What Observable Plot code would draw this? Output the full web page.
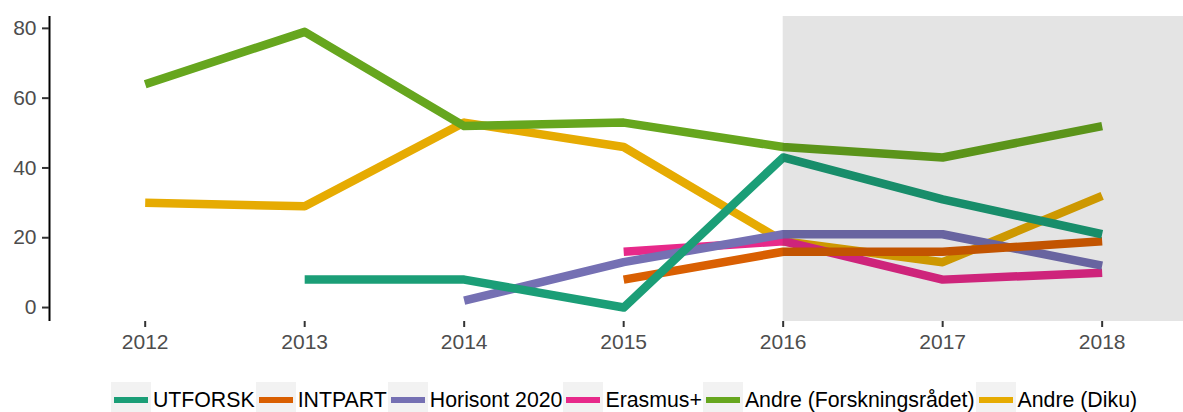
<!DOCTYPE html>
<html>
<head>
<meta charset="utf-8">
<script src="https://cdn.jsdelivr.net/npm/d3@7"></script>
<script src="https://cdn.jsdelivr.net/npm/@observablehq/plot@0.6"></script>
<style>
  html, body { margin: 0; padding: 0; background: #fff; overflow: hidden; }
  body { width: 1183px; height: 412px; font-family: "Liberation Sans", Arial, sans-serif; }
  #legend { display: flex; justify-content: center; align-items: center; padding-left: 66px; margin-top: 12px; width: 1117px; }
  .item { display: flex; align-items: center; flex: 0 0 auto; }
  .key { width: 40px; min-width: 40px; height: 36px; background: #f2f2f2; display: flex; align-items: center; justify-content: center; flex: 0 0 40px; }
  .key span { display: block; width: 34px; height: 6px; flex: 0 0 34px; }
  .lab { font-size: 21.3px; color: #000; margin-left: 2px; margin-right: 1px; white-space: nowrap; flex: 0 0 auto; }
</style>
</head>
<body>
<div id="chart"></div>
<div id="legend"></div>
<script>
const years = [2012, 2013, 2014, 2015, 2016, 2017, 2018];
const seriesNames = ["UTFORSK", "INTPART", "Horisont 2020", "Erasmus+", "Andre (Forskningsrådet)", "Andre (Diku)"];
const colors = ["#1b9e77", "#d95f02", "#7570b3", "#e7298a", "#66a61e", "#e6ab02"];
const utforsk  = [null, 8, 8, 0, 43, 31, 21];
const intpart  = [null, null, null, 8, 16, 16, 19];
const horisont = [null, null, 2, 13, 21, 21, 12];
const erasmus  = [null, null, null, 16, 19, 8, 10];
const andreForsk = [64, 79, 52, 53, 46, 43, 52];
const andreDiku  = [30, 29, 53, 46, 19, 13, 32];
const yTicks = [0, 20, 40, 60, 80];
const highlightStart = 2016;

const seriesValues = [utforsk, intpart, horisont, erasmus, andreForsk, andreDiku];
// build rows, reversed so first series is drawn on top
const rows = [];
for (let s = seriesNames.length - 1; s >= 0; s--) {
  years.forEach((yr, i) => {
    const v = seriesValues[s][i];
    if (v != null) rows.push({series: seriesNames[s], year: yr, value: v});
  });
}

const xDomain = [2011.4, 2018.51];
const yDomain = [-4.0, 83.4];

const chart = Plot.plot({
  width: 1183,
  height: 370,
  marginLeft: 49,
  marginRight: 0,
  marginTop: 16,
  marginBottom: 49,
  style: {fontFamily: '"Liberation Sans", Arial, sans-serif', fontSize: "21px", background: "#fff"},
  x: {domain: xDomain},
  y: {domain: yDomain},
  color: {domain: seriesNames, range: colors},
  marks: [
    Plot.line(rows, {x: "year", y: "value", z: "series", stroke: "series", strokeWidth: 8.5, strokeLinecap: "butt", strokeLinejoin: "round"}),
    Plot.rect([{x1: highlightStart, x2: xDomain[1], y1: yDomain[0], y2: yDomain[1]}], {x1: "x1", x2: "x2", y1: "y1", y2: "y2", fill: "#000", fillOpacity: 0.106}),
    Plot.ruleX([xDomain[0]], {y1: yDomain[0], y2: yDomain[1], stroke: "#000", strokeWidth: 2}),
    Plot.axisX({ticks: years, tickFormat: d => String(d), tickSize: 6, tickPadding: 7, stroke: "#333", strokeWidth: 2, fill: "#4d4d4d", fontSize: 21, label: null}),
    Plot.axisY({ticks: yTicks, tickSize: 7, tickPadding: 6, stroke: "#333", strokeWidth: 2, fill: "#4d4d4d", fontSize: 21, label: null})
  ]
});
document.getElementById("chart").appendChild(chart);

const legend = document.getElementById("legend");
seriesNames.forEach((name, i) => {
  const item = document.createElement("div");
  item.className = "item";
  const key = document.createElement("div");
  key.className = "key";
  const sw = document.createElement("span");
  sw.style.background = colors[i];
  key.appendChild(sw);
  const lab = document.createElement("div");
  lab.className = "lab";
  lab.textContent = name;
  item.appendChild(key);
  item.appendChild(lab);
  legend.appendChild(item);
});
</script>
</body>
</html>
